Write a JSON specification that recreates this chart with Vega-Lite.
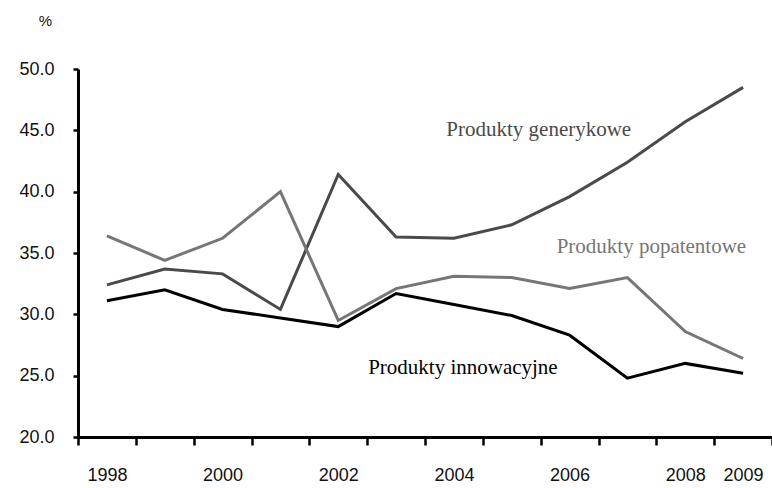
{
  "$schema": "https://vega.github.io/schema/vega-lite/v6.json",
  "width": 694,
  "height": 368,
  "autosize": {"type": "none"},
  "padding": {"left": 78, "top": 69, "right": 0, "bottom": 51},
  "background": "white",
  "config": {
    "view": {"stroke": null},
    "font": "Liberation Sans"
  },
  "datasets": {
    "series": [
      {"year": 1998, "series": "Produkty generykowe", "value": 32.4},
      {"year": 1999, "series": "Produkty generykowe", "value": 33.7},
      {"year": 2000, "series": "Produkty generykowe", "value": 33.3},
      {"year": 2001, "series": "Produkty generykowe", "value": 30.4},
      {"year": 2002, "series": "Produkty generykowe", "value": 41.4},
      {"year": 2003, "series": "Produkty generykowe", "value": 36.3},
      {"year": 2004, "series": "Produkty generykowe", "value": 36.2},
      {"year": 2005, "series": "Produkty generykowe", "value": 37.3},
      {"year": 2006, "series": "Produkty generykowe", "value": 39.6},
      {"year": 2007, "series": "Produkty generykowe", "value": 42.4},
      {"year": 2008, "series": "Produkty generykowe", "value": 45.7},
      {"year": 2009, "series": "Produkty generykowe", "value": 48.5},
      {"year": 1998, "series": "Produkty popatentowe", "value": 36.4},
      {"year": 1999, "series": "Produkty popatentowe", "value": 34.4},
      {"year": 2000, "series": "Produkty popatentowe", "value": 36.2},
      {"year": 2001, "series": "Produkty popatentowe", "value": 40.0},
      {"year": 2002, "series": "Produkty popatentowe", "value": 29.5},
      {"year": 2003, "series": "Produkty popatentowe", "value": 32.1},
      {"year": 2004, "series": "Produkty popatentowe", "value": 33.1},
      {"year": 2005, "series": "Produkty popatentowe", "value": 33.0},
      {"year": 2006, "series": "Produkty popatentowe", "value": 32.1},
      {"year": 2007, "series": "Produkty popatentowe", "value": 33.0},
      {"year": 2008, "series": "Produkty popatentowe", "value": 28.6},
      {"year": 2009, "series": "Produkty popatentowe", "value": 26.4},
      {"year": 1998, "series": "Produkty innowacyjne", "value": 31.1},
      {"year": 1999, "series": "Produkty innowacyjne", "value": 32.0},
      {"year": 2000, "series": "Produkty innowacyjne", "value": 30.4},
      {"year": 2001, "series": "Produkty innowacyjne", "value": 29.7},
      {"year": 2002, "series": "Produkty innowacyjne", "value": 29.0},
      {"year": 2003, "series": "Produkty innowacyjne", "value": 31.7},
      {"year": 2004, "series": "Produkty innowacyjne", "value": 30.8},
      {"year": 2005, "series": "Produkty innowacyjne", "value": 29.9},
      {"year": 2006, "series": "Produkty innowacyjne", "value": 28.3},
      {"year": 2007, "series": "Produkty innowacyjne", "value": 24.8},
      {"year": 2008, "series": "Produkty innowacyjne", "value": 26.0},
      {"year": 2009, "series": "Produkty innowacyjne", "value": 25.2}
    ],
    "labels": [
      {"year": 2005, "series": "Produkty generykowe", "value": 45.0},
      {"year": 2007, "series": "Produkty popatentowe", "value": 35.5},
      {"year": 2004, "series": "Produkty innowacyjne", "value": 25.6}
    ]
  },
  "encoding": {
    "x": {
      "field": "year",
      "type": "ordinal",
      "scale": {"type": "band", "paddingInner": 0, "paddingOuter": 0, "domain": [1998,1999,2000,2001,2002,2003,2004,2005,2006,2007,2008,2009]},
      "axis": {
        "title": null,
        "tickBand": "extent",
        "labelAngle": 0,
        "labelExpr": "indexof([1998,2000,2002,2004,2006,2008,2009], datum.value) >= 0 ? datum.label : ''",
        "labelFontSize": 18,
        "labelColor": "#111111",
        "labelPadding": 21,
        "tickSize": 8,
        "tickWidth": 2.5,
        "tickColor": "#000000",
        "domainColor": "#000000",
        "domainWidth": 3,
        "grid": false
      }
    },
    "y": {
      "field": "value",
      "type": "quantitative",
      "scale": {"domain": [20, 50], "nice": false, "zero": false},
      "axis": {
        "title": "%",
        "titleAngle": 0,
        "titleX": -33,
        "titleY": -49,
        "titleAlign": "center",
        "titleBaseline": "middle",
        "titleFontSize": 15,
        "titleFontWeight": "normal",
        "titleColor": "#111111",
        "values": [20, 25, 30, 35, 40, 45, 50],
        "format": ".1f",
        "labelFontSize": 18,
        "labelColor": "#111111",
        "labelPadding": 19,
        "tickSize": 5,
        "tickWidth": 2.5,
        "tickColor": "#000000",
        "domainColor": "#000000",
        "domainWidth": 3,
        "grid": false
      }
    }
  },
  "layer": [
    {
      "data": {"name": "series"},
      "mark": {"type": "line", "strokeWidth": 3},
      "encoding": {
        "detail": {"field": "series"},
        "color": {
          "field": "series",
          "type": "nominal",
          "scale": {"domain": ["Produkty generykowe", "Produkty popatentowe", "Produkty innowacyjne"], "range": ["#4a4a4a", "#767676", "#000000"]},
          "legend": null
        }
      }
    },
    {
      "data": {"name": "labels"},
      "transform": [{"filter": "datum.series == 'Produkty generykowe'"}],
      "mark": {"type": "text", "font": "Liberation Serif", "fontSize": 21, "dx": 27, "align": "center", "baseline": "middle", "color": "#4a4a4a"},
      "encoding": {"text": {"field": "series"}}
    },
    {
      "data": {"name": "labels"},
      "transform": [{"filter": "datum.series == 'Produkty popatentowe'"}],
      "mark": {"type": "text", "font": "Liberation Serif", "fontSize": 21, "dx": 24, "align": "center", "baseline": "middle", "color": "#767676"},
      "encoding": {"text": {"field": "series"}}
    },
    {
      "data": {"name": "labels"},
      "transform": [{"filter": "datum.series == 'Produkty innowacyjne'"}],
      "mark": {"type": "text", "font": "Liberation Serif", "fontSize": 21, "dx": 9, "align": "center", "baseline": "middle", "color": "#000000"},
      "encoding": {"text": {"field": "series"}}
    }
  ]
}
